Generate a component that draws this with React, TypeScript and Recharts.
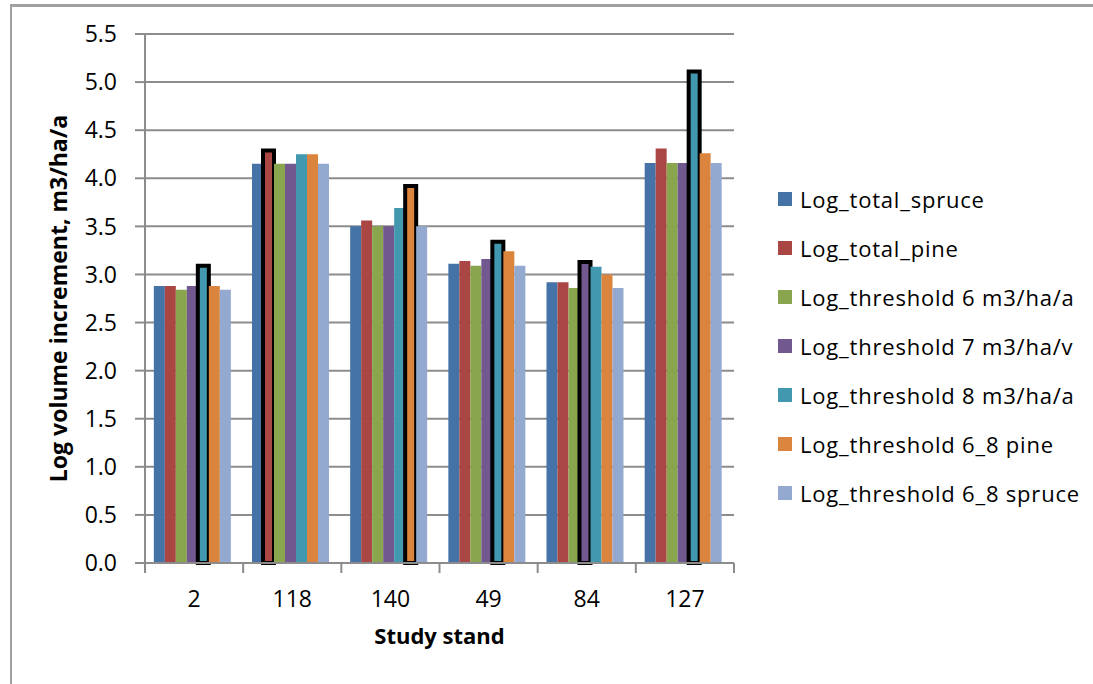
import React from 'react';
import {
  BarChart,
  Bar,
  XAxis,
  YAxis,
  CartesianGrid,
  Cell,
  Label,
} from 'recharts';

const stands = ['2', '118', '140', '49', '84', '127'];

const totalSpruce = [2.88, 4.15, 3.5, 3.11, 2.92, 4.16];
const totalPine = [2.88, 4.29, 3.56, 3.14, 2.92, 4.31];
const threshold6 = [2.84, 4.15, 3.5, 3.09, 2.86, 4.16];
const threshold7 = [2.88, 4.15, 3.5, 3.16, 3.13, 4.16];
const threshold8 = [3.09, 4.25, 3.69, 3.34, 3.08, 5.11];
const threshold68Pine = [2.88, 4.25, 3.92, 3.24, 3.0, 4.26];
const threshold68Spruce = [2.84, 4.15, 3.5, 3.09, 2.86, 4.16];

const yTicks = [0, 0.5, 1, 1.5, 2, 2.5, 3, 3.5, 4, 4.5, 5, 5.5];

const SERIES = [
  { key: 'spruce', name: 'Log_total_spruce', values: totalSpruce, color: '#4572A7' },
  { key: 'pine', name: 'Log_total_pine', values: totalPine, color: '#AA4643' },
  { key: 't6', name: 'Log_threshold 6 m3/ha/a', values: threshold6, color: '#89A54E' },
  { key: 't7', name: 'Log_threshold 7 m3/ha/v', values: threshold7, color: '#71588F' },
  { key: 't8', name: 'Log_threshold 8 m3/ha/a', values: threshold8, color: '#4198AF' },
  { key: 't68p', name: 'Log_threshold 6_8 pine', values: threshold68Pine, color: '#DB843D' },
  { key: 't68s', name: 'Log_threshold 6_8 spruce', values: threshold68Spruce, color: '#93A9CF' },
];

const data = stands.map((stand, i) => {
  const row: Record<string, number | string> = { stand };
  SERIES.forEach((s) => {
    row[s.key] = s.values[i];
  });
  return row;
});

// the tallest bar of each stand gets a heavy black outline
const maxKey = stands.map((_, i) => {
  let best = SERIES[0];
  SERIES.forEach((s) => {
    if (s.values[i] > best.values[i]) best = s;
  });
  return best.key;
});

const FONT = '"Open Sans", sans-serif';
const W = 1093;
const H = 684;
const MARGIN = { top: 34, right: 359, bottom: 61, left: 85 };
const Y_AXIS_W = 60;
const BAND = (W - MARGIN.left - Y_AXIS_W - MARGIN.right) / stands.length;

const StandTick = (props: any) => {
  const { x, y, payload, index } = props;
  const left = x - BAND / 2;
  return (
    <g>
      <line x1={left} y1={y - 8} x2={left} y2={y + 2} stroke="#8c8c8c" strokeWidth={2} />
      {index === stands.length - 1 && (
        <line x1={left + BAND} y1={y - 8} x2={left + BAND} y2={y + 2} stroke="#8c8c8c" strokeWidth={2} />
      )}
      <text x={x} y={y + 36} textAnchor="middle" fontSize={23} fill="#000" fontFamily={FONT}>
        {payload.value}
      </text>
    </g>
  );
};

const LegendList = () => (
  <div
    style={{
      position: 'absolute',
      left: 778,
      top: 174,
      width: 315,
      fontFamily: FONT,
      fontSize: 22,
      letterSpacing: 0.8,
      color: '#000',
    }}
  >
    {SERIES.map((s) => (
      <div key={s.key} style={{ display: 'flex', alignItems: 'center', height: 49, whiteSpace: 'nowrap' }}>
        <span style={{ width: 14, height: 14, background: s.color, marginRight: 8, flex: 'none' }} />
        <span>{s.name}</span>
      </div>
    ))}
  </div>
);

export default function App() {
  return (
    <div style={{ position: 'absolute', left: 0, top: 0, width: W, height: H, background: '#fff', overflow: 'hidden' }}>
      <div
        style={{
          position: 'absolute',
          left: 10,
          top: 4,
          width: W,
          height: H,
          borderLeft: '2px solid #a0a0a0',
          borderTop: '3px solid #a0a0a0',
        }}
      />
      <BarChart
        width={W}
        height={H}
        data={data}
        margin={MARGIN}
        barCategoryGap="9%"
        barGap={0}
        style={{ position: 'absolute', left: 0, top: 0 }}
      >
        <CartesianGrid vertical={false} stroke="#8c8c8c" strokeWidth={2} />
        <XAxis
          dataKey="stand"
          stroke="#8c8c8c"
          strokeWidth={2}
          tickLine={false}
          tick={<StandTick />}
          interval={0}
          height={60}
        >
          <Label
            value="Study stand"
            position="insideBottom"
            offset={-21}
            style={{ fontFamily: FONT, fontSize: 22, fontWeight: 700, fill: '#000' }}
          />
        </XAxis>
        <YAxis
          width={Y_AXIS_W}
          domain={[0, 5.5]}
          ticks={yTicks}
          interval={0}
          tickFormatter={(v: number) => v.toFixed(1)}
          stroke="#8c8c8c"
          strokeWidth={2}
          tickSize={10}
          tickMargin={18}
          tick={{ fontFamily: FONT, fontSize: 23, fill: '#000' }}
        >
          <Label
            value="Log volume increment, m3/ha/a"
            angle={-90}
            position="insideLeft"
            offset={-26}
            style={{ textAnchor: 'middle', fontFamily: FONT, fontSize: 23, fontWeight: 700, fill: '#000' }}
          />
        </YAxis>
        {SERIES.map((s) => (
          <Bar key={s.key} dataKey={s.key} name={s.name} fill={s.color} isAnimationActive={false}>
            {data.map((_, i) => (
              <Cell
                key={`${s.key}-${i}`}
                fill={s.color}
                stroke={maxKey[i] === s.key ? '#000' : 'none'}
                strokeWidth={maxKey[i] === s.key ? 4 : 0}
              />
            ))}
          </Bar>
        ))}
      </BarChart>
      <LegendList />
    </div>
  );
}
